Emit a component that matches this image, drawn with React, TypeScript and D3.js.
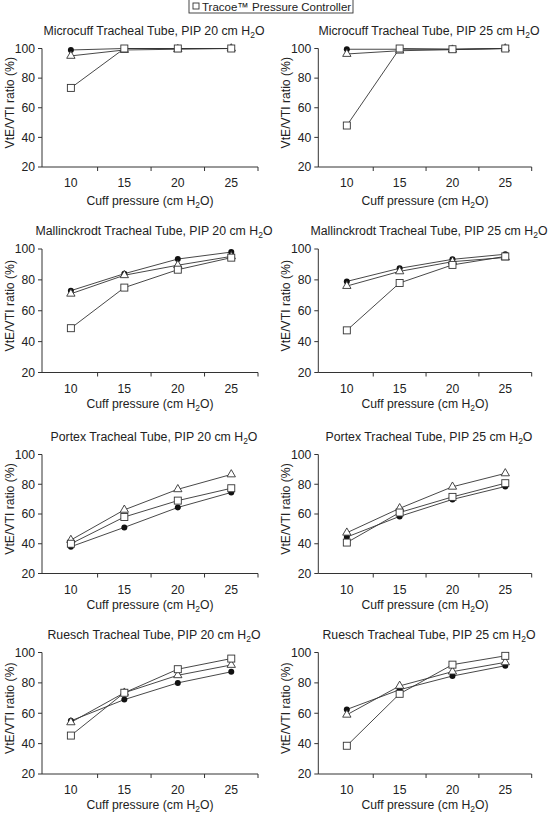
import React from "react";
import * as d3 from "d3";

const cuffPressures = [10, 15, 20, 25];
const yTicks = [20, 40, 60, 80, 100];
const xTickLabels = [10, 15, 20, 25];
const xTickMarks = [12.5, 17.5, 22.5, 27.5];

const tubes = ["Microcuff", "Mallinckrodt", "Portex", "Ruesch"];
const pips = [20, 25];

// filled circle series
const circleMicrocuff20 = [99, 100, 100, 100];
const circleMicrocuff25 = [99.5, 99.5, 99.5, 100];
const circleMallinckrodt20 = [73, 84, 93.5, 98];
const circleMallinckrodt25 = [79, 87.5, 93.3, 96.6];
const circlePortex20 = [38, 51, 64.4, 74.5];
const circlePortex25 = [44.5, 58.4, 69.8, 78.5];
const circleRuesch20 = [55, 69, 80, 87.3];
const circleRuesch25 = [62.5, 75.5, 84.5, 91.3];

// open triangle series
const triangleMicrocuff20 = [95, 99, 99.5, 100];
const triangleMicrocuff25 = [96.3, 98.5, 99.2, 100];
const triangleMallinckrodt20 = [71, 83, 89.5, 95.2];
const triangleMallinckrodt25 = [76, 85.5, 91.8, 94.5];
const trianglePortex20 = [42.5, 62.8, 76.6, 86.6];
const trianglePortex25 = [47.4, 63.8, 78.3, 87.3];
const triangleRuesch20 = [54, 73.5, 85, 91.8];
const triangleRuesch25 = [59, 78, 87.4, 93.5];

// open square series (Tracoe Pressure Controller)
const squareMicrocuff20 = [73.4, 100, 100, 100];
const squareMicrocuff25 = [48, 100, 99.5, 100];
const squareMallinckrodt20 = [48.7, 75, 86.6, 94.4];
const squareMallinckrodt25 = [47.3, 78, 89.7, 95.2];
const squarePortex20 = [40, 58, 69, 77.3];
const squarePortex25 = [40.8, 61, 71.5, 80.7];
const squareRuesch20 = [45.3, 73.5, 89, 96];
const squareRuesch25 = [38.6, 72.8, 92, 97.8];

const circleData = [
  [circleMicrocuff20, circleMicrocuff25],
  [circleMallinckrodt20, circleMallinckrodt25],
  [circlePortex20, circlePortex25],
  [circleRuesch20, circleRuesch25],
];
const triangleData = [
  [triangleMicrocuff20, triangleMicrocuff25],
  [triangleMallinckrodt20, triangleMallinckrodt25],
  [trianglePortex20, trianglePortex25],
  [triangleRuesch20, triangleRuesch25],
];
const squareData = [
  [squareMicrocuff20, squareMicrocuff25],
  [squareMallinckrodt20, squareMallinckrodt25],
  [squarePortex20, squarePortex25],
  [squareRuesch20, squareRuesch25],
];

const legendLabel = "Tracoe\u2122 Pressure Controller";

const FONT = "'Liberation Sans', Arial, Helvetica, sans-serif";
const INK = "#222";
const LINE = "#333";

const rowLayout = [
  { y100: 48.5, y20: 167, xlab: 34 },
  { y100: 249, y20: 372.5, xlab: 31 },
  { y100: 454.5, y20: 573.5, xlab: 31.5 },
  { y100: 652.5, y20: 774, xlab: 31 },
];
const colLayout = [
  { x0: 42, x1: 258 },
  { x0: 318.3, x1: 531.7 },
];

function H2O() {
  return (
    <>
      H
      <tspan fontSize={8.5} dy={3}>2</tspan>
      <tspan dy={-3}>O</tspan>
    </>
  );
}

function Panel({ r, c }: { r: number; c: number }) {
  const row = rowLayout[r];
  const col = colLayout[c];
  const x = d3.scaleLinear().domain([7.3, 27.5]).range([col.x0, col.x1]);
  const y = d3.scaleLinear().domain([20, 100]).range([row.y20, row.y100]);
  const line = d3
    .line<number>()
    .x((_, i) => x(cuffPressures[i]))
    .y((d) => y(d));
  const circ = circleData[r][c];
  const tri = triangleData[r][c];
  const sq = squareData[r][c];
  const midY = (row.y100 + row.y20) / 2;
  const triPath = d3.symbol().type(d3.symbolTriangle).size(30)()!;
  return (
    <g>
      <text
        x={(col.x0 + col.x1) / 2 + 4}
        y={row.y100 - 14}
        textAnchor="middle"
        fontSize={12.3}
        fill={INK}
      >
        {tubes[r]} Tracheal Tube, PIP {pips[c]} cm <H2O />
      </text>
      {/* y axis */}
      <line x1={col.x0} x2={col.x0} y1={y(20)} y2={y(100)} stroke={LINE} strokeWidth={1} />
      {yTicks.map((t) => (
        <g key={t}>
          <line x1={col.x0 - 4} x2={col.x0} y1={y(t)} y2={y(t)} stroke={LINE} strokeWidth={1} />
          <text x={col.x0 - 7} y={y(t) + 4.3} textAnchor="end" fontSize={12.2} fill={INK}>
            {t}
          </text>
        </g>
      ))}
      {/* x axis */}
      <line x1={col.x0} x2={col.x1} y1={y(20)} y2={y(20)} stroke={LINE} strokeWidth={1} />
      {xTickMarks.map((t) => (
        <line key={t} x1={x(t)} x2={x(t)} y1={y(20)} y2={y(20) + 4} stroke={LINE} strokeWidth={1} />
      ))}
      {xTickLabels.map((t) => (
        <text key={t} x={x(t)} y={y(20) + 20} textAnchor="middle" fontSize={12.2} fill={INK}>
          {t}
        </text>
      ))}
      <text
        x={(col.x0 + col.x1) / 2}
        y={row.y20 + row.xlab + 4}
        textAnchor="middle"
        fontSize={12.2}
        fill={INK}
      >
        Cuff pressure (cm <H2O />)
      </text>
      <text
        transform={`translate(${col.x0 - 28},${midY - 5}) rotate(-90)`}
        textAnchor="middle"
        fontSize={12.2}
        fill={INK}
      >
        VtE/VTI ratio (%)
      </text>
      {/* series lines */}
      {[sq, tri, circ].map((s, i) => (
        <path key={i} d={line(s) || ""} fill="none" stroke={LINE} strokeWidth={0.9} />
      ))}
      {/* markers */}
      {circ.map((v, i) => (
        <circle key={"c" + i} cx={x(cuffPressures[i])} cy={y(v)} r={3} fill="#111" />
      ))}
      {tri.map((v, i) => (
        <path
          key={"t" + i}
          d={triPath}
          transform={`translate(${x(cuffPressures[i])},${y(v)})`}
          fill="#fff"
          stroke={LINE}
          strokeWidth={0.9}
        />
      ))}
      {sq.map((v, i) => (
        <rect
          key={"s" + i}
          x={x(cuffPressures[i]) - 3.5}
          y={y(v) - 3.5}
          width={7}
          height={7}
          fill="#fff"
          stroke={LINE}
          strokeWidth={0.9}
        />
      ))}
    </g>
  );
}

export default function App() {
  return (
    <svg
      width={548}
      height={813}
      style={{ position: "absolute", left: 0, top: 0, background: "#fff" }}
      fontFamily={FONT}
    >
      <rect x={0} y={0} width={548} height={813} fill="#fff" />
      {/* legend (top part cropped in the source figure) */}
      <rect x={189} y={-30} width={164} height={43} fill="#fff" stroke={LINE} strokeWidth={0.9} />
      <rect x={193} y={3} width={6} height={6} fill="#fff" stroke={LINE} strokeWidth={0.9} />
      <text x={202} y={10.8} fontSize={11.5} fill={INK}>
        {legendLabel}
      </text>
      {[0, 1, 2, 3].map((r) => (
        <g key={r}>
          <Panel r={r} c={0} />
          <Panel r={r} c={1} />
        </g>
      ))}
    </svg>
  );
}
